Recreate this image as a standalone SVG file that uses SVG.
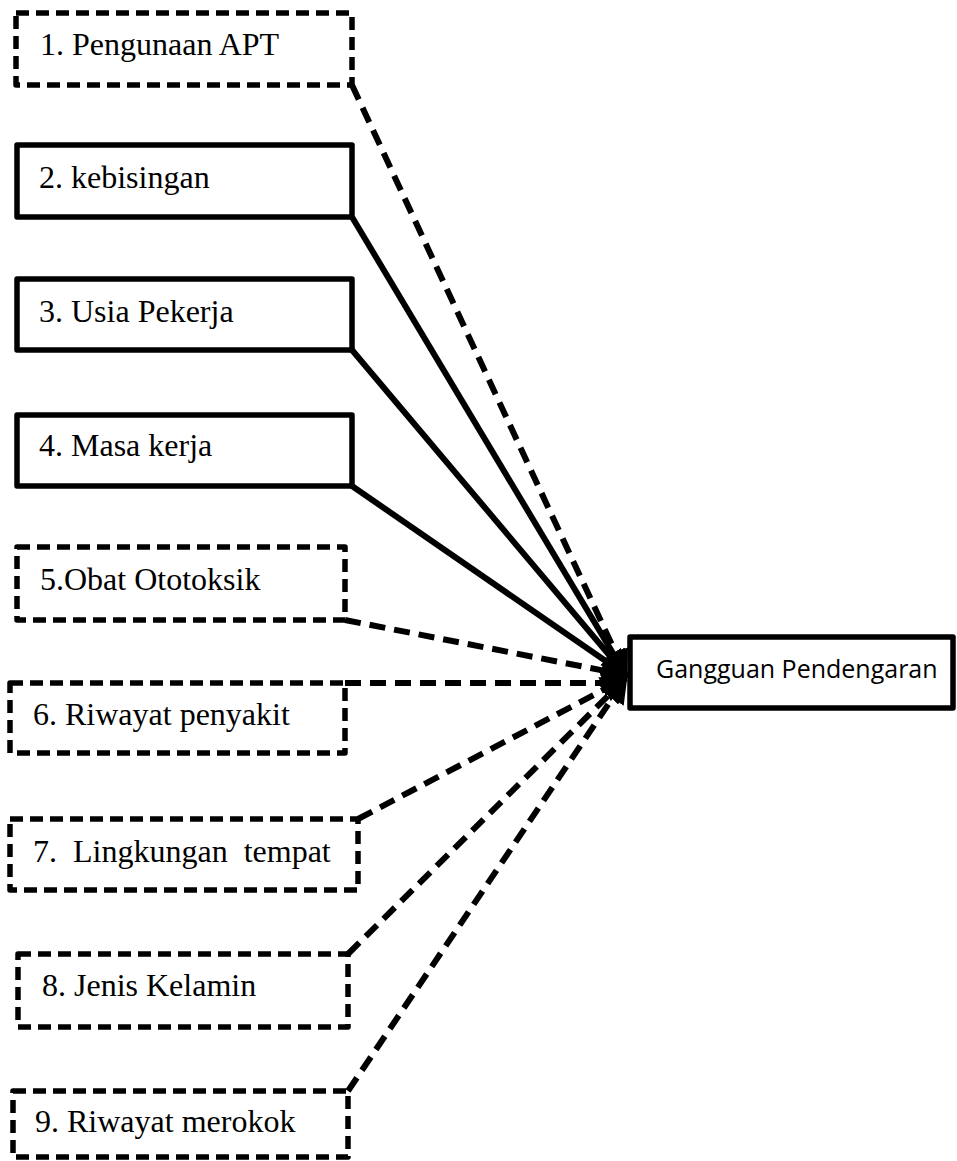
<svg xmlns="http://www.w3.org/2000/svg" width="957" height="1161" viewBox="0 0 957 1161">
<style>
.box{fill:#fff;stroke:#000;stroke-width:5.5;stroke-linejoin:round}
.dash{stroke-dasharray:13 7}
.lbl{font-family:"Liberation Serif","Times New Roman",serif;font-size:32px;fill:#000}
.tgt{font-family:"Open Sans","Noto Sans",sans-serif;font-size:25px;fill:#000}
.con{stroke:#000;stroke-width:6;fill:none}
.cdash{stroke-dasharray:16 9}
</style>
<defs>
<marker id="ah" viewBox="0 0 10 10" refX="9" refY="5" markerWidth="4.5" markerHeight="4.5" orient="auto" markerUnits="strokeWidth">
<path d="M0,0 L10,5 L0,10 Z" fill="#000"/>
</marker>
</defs>
<g id="connectors">
<line class="con cdash" x1="352" y1="85" x2="626" y2="675" marker-end="url(#ah)"/>
<line class="con" x1="352" y1="217" x2="626" y2="675" marker-end="url(#ah)"/>
<line class="con" x1="352" y1="350" x2="626" y2="675" marker-end="url(#ah)"/>
<line class="con" x1="352" y1="486" x2="626" y2="675" marker-end="url(#ah)"/>
<line class="con cdash" x1="345" y1="620" x2="626" y2="675" marker-end="url(#ah)"/>
<polyline class="con cdash" points="345,683 605,683 626,678" marker-end="url(#ah)"/>
<line class="con cdash" x1="358" y1="819" x2="626" y2="678" marker-end="url(#ah)"/>
<line class="con cdash" x1="348" y1="954" x2="626" y2="678" marker-end="url(#ah)"/>
<line class="con cdash" x1="348" y1="1091" x2="626" y2="678" marker-end="url(#ah)"/>
</g>
<g id="n1"><rect class="box dash" x="16" y="13" width="336" height="72"/><text class="lbl" x="40" y="55">1. Pengunaan APT</text></g>
<g id="n2"><rect class="box" x="17" y="145" width="335" height="72"/><text class="lbl" x="39" y="188">2. kebisingan</text></g>
<g id="n3"><rect class="box" x="17" y="279" width="335" height="71"/><text class="lbl" x="39" y="322">3. Usia Pekerja</text></g>
<g id="n4"><rect class="box" x="17" y="415" width="335" height="71"/><text class="lbl" x="39" y="456">4. Masa kerja</text></g>
<g id="n5"><rect class="box dash" x="17" y="547" width="328" height="73"/><text class="lbl" x="40" y="590">5.Obat Ototoksik</text></g>
<g id="n6"><rect class="box dash" x="10" y="683" width="335" height="70"/><text class="lbl" x="33" y="725">6. Riwayat penyakit</text></g>
<g id="n7"><rect class="box dash" x="10" y="819" width="348" height="71"/><text class="lbl" x="33" y="862" xml:space="preserve">7.  Lingkungan  tempat</text></g>
<g id="n8"><rect class="box dash" x="18" y="954" width="330" height="73"/><text class="lbl" x="42" y="996">8. Jenis Kelamin</text></g>
<g id="n9"><rect class="box dash" x="13" y="1091" width="335" height="66"/><text class="lbl" x="35" y="1132">9. Riwayat merokok</text></g>
<g id="target"><rect class="box" x="630" y="637" width="323" height="71"/><text class="tgt" x="656" y="678">Gangguan Pendengaran</text></g>
</svg>
